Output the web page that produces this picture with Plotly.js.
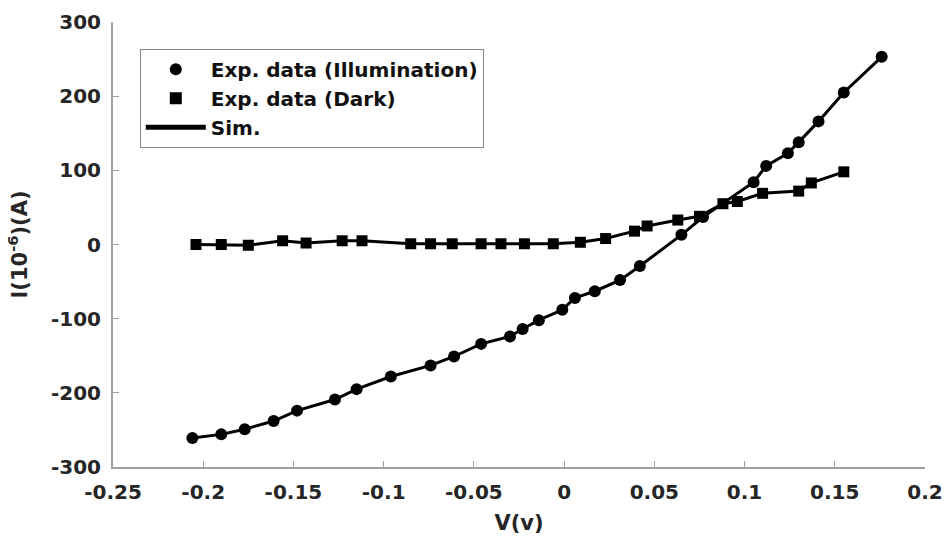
<!DOCTYPE html>
<html>
<head>
<meta charset="utf-8">
<script src="https://cdn.plot.ly/plotly-3.0.1.min.js"></script>
<style>html,body{margin:0;padding:0;background:#fff;}#chart{width:946px;height:541px;}</style>
</head>
<body>
<div id="chart"></div>
<script>
// Exp. data (Illumination)
const illumV = [-0.206, -0.190, -0.177, -0.161, -0.148, -0.127, -0.115, -0.096, -0.074, -0.061, -0.046, -0.030, -0.023, -0.014, -0.001, 0.006, 0.017, 0.031, 0.042, 0.065, 0.077, 0.105, 0.112, 0.124, 0.130, 0.141, 0.155, 0.176];
const illumI = [-261, -256, -249, -238, -224, -209, -195, -178, -163, -151, -134, -124, -114, -102, -88, -72, -63, -48, -29, 13, 37, 84, 106, 123, 138, 166, 205, 253];
// Exp. data (Dark)
const darkV = [-0.204, -0.190, -0.175, -0.156, -0.143, -0.123, -0.112, -0.085, -0.074, -0.062, -0.046, -0.035, -0.022, -0.006, 0.009, 0.023, 0.039, 0.046, 0.063, 0.075, 0.088, 0.096, 0.110, 0.130, 0.137, 0.155];
const darkI = [0, 0, -1, 5, 2, 5, 5, 1, 1, 1, 1, 1, 1, 1, 3, 8, 18, 25, 33, 38, 55, 58, 69, 72, 83, 98];

const xTicks = [-0.25, -0.2, -0.15, -0.1, -0.05, 0, 0.05, 0.1, 0.15, 0.2];
const xTickText = ['-0.25', '-0.2', '-0.15', '-0.1', '-0.05', '0', '0.05', '0.1', '0.15', '0.2'];
const yTicks = [-300, -200, -100, 0, 100, 200, 300];
const yTickText = ['-300', '-200', '-100', '0', '100', '200', '300'];

const traces = [
  {x: illumV, y: illumI, type: 'scatter', mode: 'markers', name: 'Exp. data (Illumination)',
   marker: {symbol: 'circle', size: 12, color: '#000'}},
  {x: darkV, y: darkI, type: 'scatter', mode: 'markers', name: 'Exp. data (Dark)',
   marker: {symbol: 'square', size: 11, color: '#000'}},
  {x: illumV, y: illumI, type: 'scatter', mode: 'lines', name: 'Sim.',
   line: {color: '#000', width: 3}},
  {x: darkV, y: darkI, type: 'scatter', mode: 'lines', name: 'Sim.', showlegend: false,
   line: {color: '#000', width: 3}}
];

const fam = '"DejaVu Sans", "Liberation Sans", Arial, sans-serif';

const layout = {
  width: 946, height: 541,
  margin: {l: 113, r: 21, t: 22, b: 74},
  paper_bgcolor: '#fff', plot_bgcolor: '#fff',
  font: {family: fam, color: '#262626'},
  showlegend: true,
  legend: {
    x: 0.033, y: 0.94, xanchor: 'left', yanchor: 'top',
    bgcolor: '#fff', bordercolor: '#888', borderwidth: 1,
    font: {family: fam, size: 20, color: '#111', weight: 'bold'},
    tracegroupgap: 0, itemsizing: 'constant', itemwidth: 60
  },
  xaxis: {
    range: [-0.25, 0.2], tickvals: xTicks, ticktext: xTickText,
    showgrid: false, zeroline: false, showline: true, linecolor: '#a0a0a0', linewidth: 2,
    ticks: 'inside', ticklen: 6, tickcolor: '#a0a0a0', tickwidth: 1, ticklabelstandoff: 6,
    tickfont: {family: fam, size: 20, color: '#262626', weight: 'bold'},
    title: {text: 'V(v)', standoff: 12, font: {family: fam, size: 21, color: '#262626', weight: 'bold'}}
  },
  yaxis: {
    range: [-300, 300], tickvals: yTicks, ticktext: yTickText,
    showgrid: false, zeroline: false, showline: true, linecolor: '#a0a0a0', linewidth: 2,
    ticks: 'inside', ticklen: 6, tickcolor: '#a0a0a0', tickwidth: 1, ticklabelstandoff: 6,
    tickfont: {family: fam, size: 20, color: '#262626', weight: 'bold'},
    title: {text: 'I(10<sup>-6</sup>)(A)', standoff: 18, font: {family: fam, size: 21, color: '#262626', weight: 'bold'}}
  }
};

Plotly.newPlot('chart', traces, layout, {displayModeBar: false, staticPlot: true});
</script>
</body>
</html>
